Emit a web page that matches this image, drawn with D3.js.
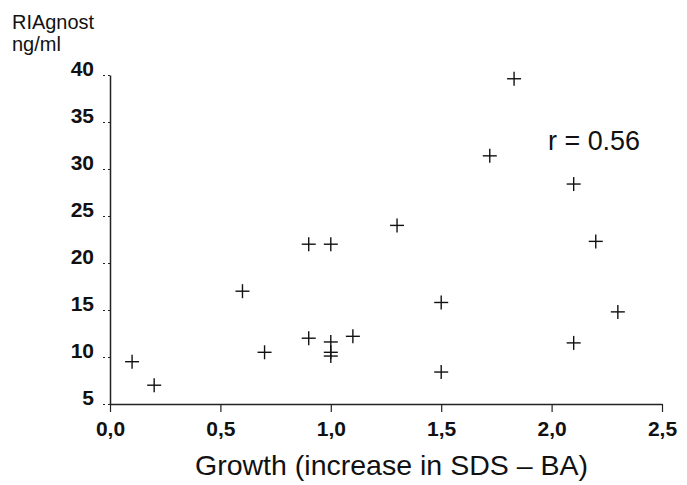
<!DOCTYPE html>
<html>
<head>
<meta charset="utf-8">
<script src="https://cdnjs.cloudflare.com/ajax/libs/d3/7.8.5/d3.min.js"></script>
<style>
  body { margin: 0; background: #fff; }
  text { font-family: "Liberation Sans", Arial, sans-serif; fill: #111; }
</style>
</head>
<body>
<script>
'use strict';

// growth (increase in SDS - BA) and RIAgnost (ng/ml)
var growth = [0.1, 0.2, 0.6, 0.7, 0.9, 0.9, 1.0, 1.0, 1.0, 1.0, 1.1, 1.3, 1.5, 1.5, 1.72, 1.83, 2.1, 2.1, 2.2, 2.3];
var riagnost = [9.5, 7.0, 17.0, 10.5, 12.0, 22.0, 22.0, 11.6, 10.5, 10.1, 12.2, 24.0, 15.8, 8.4, 31.4, 39.6, 28.4, 11.5, 22.3, 14.8];

var xTicks = [0, 0.5, 1.0, 1.5, 2.0, 2.5];
var yTicks = [5, 10, 15, 20, 25, 30, 35, 40];

var width = 687, height = 485;

var svg = d3.select("body").append("svg")
   .attr("width", width)
   .attr("height", height);

var x = d3.scaleLinear().domain([0, 2.5]).range([110, 662]);
var y = d3.scaleLinear().domain([5, 40]).range([404, 75]);

var fmt = function(d){ return d3.format(".1f")(d).replace(".", ","); };

// x axis
var xAxis = d3.axisBottom(x)
   .tickValues(xTicks)
   .tickFormat(fmt)
   .tickSizeInner(8)
   .tickSizeOuter(0)
   .tickPadding(9);

var gx = svg.append("g")
   .attr("transform", "translate(0," + y(5) + ")")
   .call(xAxis);
gx.select(".domain").attr("stroke", "#222").attr("stroke-width", 1.3);
gx.selectAll(".tick line").attr("stroke", "#222").attr("stroke-width", 1.2);
gx.selectAll(".tick text")
   .style("font-family", "'Liberation Sans', Arial, sans-serif")
   .style("font-size", "21px")
   .style("font-weight", "bold")
   .attr("fill", "#111");

// y axis
var yAxis = d3.axisLeft(y)
   .tickValues(yTicks)
   .tickSizeInner(8)
   .tickSizeOuter(0)
   .tickPadding(8);

var gy = svg.append("g")
   .attr("transform", "translate(" + x(0) + ",0)")
   .call(yAxis);
gy.select(".domain").attr("stroke", "#222").attr("stroke-width", 1.5);
gy.selectAll(".tick line").attr("stroke", "#222").attr("stroke-width", 1.2).attr("stroke-dasharray", "2,3");
gy.selectAll(".tick text")
   .attr("dy", "0")
   .style("font-family", "'Liberation Sans', Arial, sans-serif")
   .style("font-size", "21px")
   .style("font-weight", "bold")
   .attr("fill", "#111");

// points as crosses
var arm = 7;
var pts = growth.map(function(g, i){ return { g: g, v: riagnost[i] }; });

var crosses = svg.append("g").selectAll("g.pt")
   .data(pts)
   .enter()
   .append("g")
   .attr("class", "pt")
   .attr("transform", function(d){ return "translate(" + x(d.g) + "," + y(d.v) + ")"; });

crosses.append("line")
   .attr("x1", -arm).attr("x2", arm).attr("y1", 0).attr("y2", 0)
   .attr("stroke", "#111").attr("stroke-width", 1.4);
crosses.append("line")
   .attr("x1", 0).attr("x2", 0).attr("y1", -arm).attr("y2", arm)
   .attr("stroke", "#111").attr("stroke-width", 1.4);

// y title
svg.append("text").attr("x", 12).attr("y", 29)
   .attr("textLength", 82)
   .attr("lengthAdjust", "spacingAndGlyphs")
   .style("font-size", "21px").text("RIAgnost");
svg.append("text").attr("x", 12).attr("y", 51)
   .style("font-size", "20px").text("ng/ml");

// x title
svg.append("text")
   .attr("x", 195).attr("y", 475)
   .attr("textLength", 393)
   .attr("lengthAdjust", "spacingAndGlyphs")
   .style("font-size", "28px")
   .text("Growth (increase in SDS \u2013 BA)");

// correlation
svg.append("text")
   .attr("x", 548).attr("y", 150)
   .attr("textLength", 92)
   .attr("lengthAdjust", "spacingAndGlyphs")
   .style("font-size", "28px")
   .text("r = 0.56");
</script>
</body>
</html>
